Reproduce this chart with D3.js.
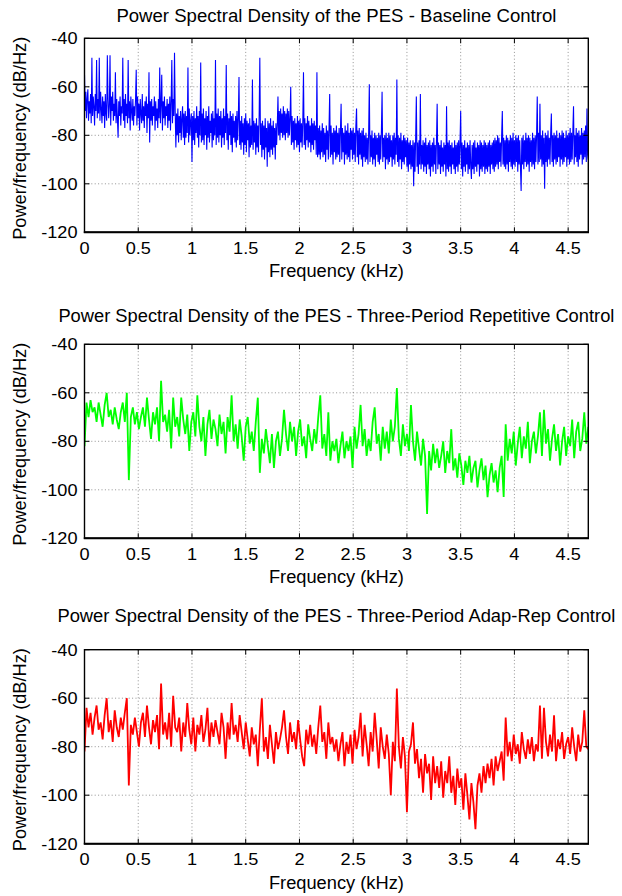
<!DOCTYPE html>
<html><head><meta charset="utf-8">
<script src="https://cdn.jsdelivr.net/npm/d3@7"></script>
<style>
body{margin:0;background:#fff}
svg{display:block}
text{font-family:"Liberation Sans",Arial,Helvetica,sans-serif;fill:#000}
</style>
</head><body>
<svg id="chart" width="622" height="896"></svg>
<script>
// ---------------- data ----------------
const titles = [
  "Power Spectral Density of the PES - Baseline Control",
  "Power Spectral Density of the PES - Three-Period Repetitive Control",
  "Power Spectral Density of the PES - Three-Period Adap-Rep Control"
];
const xLabel = "Frequency (kHz)";
const yLabel = "Power/frequency (dB/Hz)";
const xTicks = [0, 0.5, 1, 1.5, 2, 2.5, 3, 3.5, 4, 4.5];
const xTickLabels = ["0", "0.5", "1", "1.5", "2", "2.5", "3", "3.5", "4", "4.5"];
const yTicks = [-120, -100, -80, -60, -40];
const yTickLabels = ["-120", "-100", "-80", "-60", "-40"];
const freqMax = 4.6875;          // kHz
const yMin = -120, yMax = -40;   // dB/Hz

// Baseline control (bin spacing 0.00625 kHz)
const baselineStep = 0.00625;
const baselinePSD = [
  -55,-70,-62,-73,-65,-61,-74,-66,-71,-63,-75,-48,-72,-64,-68,-76,-63,-70,-49,-73,-65,-71,-48,-74,-62,
  -69,-75,-64,-72,-66,-77,-63,-71,-74,-47,-65,-73,-68,-47,-76,-64,-70,-62,-74,-67,-72,-54,-75,-65,-73,
  -81,-66,-72,-64,-76,-68,-71,-48,-74,-65,-77,-63,-72,-67,-75,-49,-73,-66,-78,-64,-70,-74,-65,-76,-68,
  -72,-65,-53,-76,-64,-73,-67,-78,-65,-71,-75,-63,-74,-68,-77,-66,-72,-64,-79,-67,-73,-54,-83,-66,-74,
  -65,-76,-68,-72,-64,-78,-66,-74,-69,-77,-65,-73,-52,-75,-67,-55,-78,-66,-73,-64,-76,-68,-72,-65,-77,
  -67,-74,-64,-78,-66,-49,-75,-65,-72,-46,-70,-85,-71,-80,-69,-83,-72,-79,-70,-82,-73,-68,-81,-71,-84,
  -70,-81,-72,-79,-52,-83,-69,-80,-74,-71,-91,-72,-82,-70,-84,-73,-79,-68,-81,-72,-85,-70,-80,-50,-83,
  -71,-82,-69,-84,-73,-80,-70,-86,-72,-81,-68,-83,-74,-79,-71,-85,-70,-82,-73,-80,-49,-84,-71,-81,-69,
  -83,-72,-80,-70,-85,-73,-81,-69,-84,-72,-79,-51,-82,-71,-86,-73,-80,-70,-84,-72,-87,-71,-81,-74,-83,
  -72,-85,-70,-82,-73,-56,-84,-74,-86,-72,-83,-75,-88,-73,-84,-71,-87,-74,-82,-75,-89,-73,-85,-76,-84,
  -57,-86,-74,-83,-75,-88,-73,-85,-76,-87,-72,-48,-84,-75,-89,-74,-86,-76,-90,-73,-85,-77,-93,-74,-87,
  -75,-89,-73,-86,-76,-88,-74,-85,-77,-90,-75,-84,-76,-64,-80,-70,-82,-69,-79,-71,-81,-68,-80,-70,-82,
  -71,-79,-69,-81,-70,-80,-73,-60,-84,-72,-83,-74,-86,-73,-82,-75,-85,-72,-84,-74,-87,-73,-83,-75,-85,
  -74,-54,-84,-73,-86,-75,-82,-72,-85,-74,-83,-76,-87,-73,-84,-75,-86,-74,-82,-76,-88,-54,-89,-77,-88,
  -76,-90,-78,-87,-75,-89,-77,-88,-79,-91,-76,-86,-78,-90,-77,-63,-89,-76,-88,-79,-92,-77,-87,-78,-90,
  -76,-89,-79,-88,-77,-91,-78,-67,-90,-77,-87,-79,-92,-76,-88,-78,-90,-75,-89,-79,-91,-77,-86,-78,-90,
  -77,-88,-79,-91,-76,-69,-89,-78,-92,-77,-88,-79,-90,-78,-93,-77,-89,-80,-91,-79,-90,-81,-92,-79,-59,
  -91,-80,-89,-78,-92,-81,-90,-79,-93,-80,-88,-81,-91,-79,-92,-80,-90,-78,-62,-91,-81,-89,-80,-94,-79,
  -90,-81,-92,-79,-91,-80,-89,-82,-93,-80,-90,-79,-92,-81,-88,-57,-91,-80,-93,-81,-90,-79,-94,-82,-91,
  -80,-92,-81,-89,-82,-93,-81,-95,-83,-92,-82,-94,-84,-93,-82,-101,-83,-95,-81,-64,-93,-83,-96,-82,-92,
  -63,-94,-84,-92,-82,-95,-83,-93,-81,-96,-84,-92,-83,-94,-82,-97,-84,-93,-83,-95,-81,-92,-84,-96,-82,
  -67,-94,-83,-92,-84,-96,-82,-93,-85,-95,-83,-92,-84,-97,-68,-94,-83,-95,-82,-93,-84,-96,-83,-92,-85,
  -94,-82,-96,-84,-93,-83,-95,-82,-92,-84,-70,-94,-83,-97,-84,-93,-82,-95,-85,-92,-83,-96,-84,-94,-82,
  -93,-98,-84,-94,-83,-96,-82,-93,-85,-95,-83,-92,-84,-97,-82,-94,-83,-95,-84,-93,-82,-96,-83,-94,-84,
  -95,-83,-93,-82,-96,-84,-92,-83,-94,-82,-95,-81,-93,-82,-92,-80,-94,-81,-91,-83,-93,-80,-70,-92,-81,
  -93,-82,-94,-80,-92,-81,-95,-82,-91,-80,-93,-81,-94,-79,-92,-82,-93,-80,-91,-81,-95,-80,-92,-82,-93,
  -103,-81,-92,-80,-94,-82,-91,-79,-93,-81,-92,-80,-95,-81,-91,-82,-93,-79,-92,-81,-94,-80,-91,-80,-64,
  -92,-79,-91,-67,-90,-80,-93,-78,-92,-81,-102,-79,-91,-80,-93,-78,-90,-81,-92,-79,-71,-91,-80,-93,-79,
  -90,-80,-92,-78,-91,-81,-89,-79,-93,-80,-90,-78,-92,-79,-91,-81,-89,-78,-93,-80,-90,-79,-92,-77,-91,
  -79,-90,-78,-68,-92,-80,-89,-77,-91,-79,-93,-78,-90,-80,-88,-77,-92,-79,-90,-78,-89,-76,-91,-69,-88,
  -90
];

// Three-period repetitive control (bin spacing 0.01875 kHz)
const repetitiveStep = 0.01875;
const repetitivePSD = [
  -82,-64,-70,-63,-68,-66,-72,-64,-69,-74,-65,-60,-70,-67,-73,-66,-71,-75,-68,-64,-72,-60,-96,-70,-66,
  -73,-68,-75,-70,-66,-74,-62,-71,-79,-68,-73,-66,-80,-55,-72,-69,-76,-67,-83,-62,-74,-70,-78,-62,-71,
  -77,-69,-84,-72,-68,-78,-61,-74,-80,-70,-86,-73,-67,-79,-71,-75,-82,-69,-77,-72,-85,-70,-76,-61,-80,
  -73,-83,-71,-78,-88,-74,-70,-81,-76,-84,-72,-62,-93,-79,-85,-75,-82,-89,-77,-91,-80,-76,-86,-79,-67,
  -77,-84,-72,-80,-74,-86,-76,-71,-82,-78,-87,-73,-79,-84,-75,-81,-70,-61,-83,-77,-86,-68,-88,-80,-84,
  -79,-89,-82,-76,-87,-80,-84,-78,-91,-74,-83,-77,-65,-82,-75,-86,-79,-84,-72,-66,-81,-77,-88,-74,-83,
  -76,-85,-71,-80,-74,-58,-79,-86,-73,-82,-77,-84,-65,-80,-88,-76,-83,-90,-79,-86,-110,-84,-92,-81,-89,
  -83,-91,-86,-80,-93,-84,-89,-75,-92,-87,-95,-85,-90,-98,-88,-93,-86,-97,-91,-88,-99,-92,-87,-96,-90,
  -103,-94,-89,-97,-92,-101,-91,-86,-103,-73,-88,-79,-85,-76,-90,-81,-74,-87,-78,-83,-72,-89,-80,-76,-85,
  -78,-68,-86,-67,-81,-75,-88,-79,-73,-84,-77,-90,-80,-74,-86,-78,-82,-71,-87,-76,-72,-84,-79,-68,-81,
  -74
];

// Three-period adaptive-repetitive control (bin spacing 0.01875 kHz)
const adapRepStep = 0.01875;
const adapRepPSD = [
  -82,-64,-72,-66,-75,-68,-63,-73,-70,-77,-67,-60,-74,-69,-78,-65,-72,-76,-68,-73,-66,-60,-96,-71,-75,
  -68,-74,-80,-70,-66,-76,-63,-72,-79,-69,-74,-67,-81,-54,-75,-70,-77,-66,-80,-59,-72,-74,-68,-82,-70,
  -76,-62,-73,-79,-68,-82,-71,-75,-67,-78,-73,-64,-80,-70,-76,-69,-74,-79,-66,-72,-85,-70,-77,-62,-75,
  -71,-78,-67,-74,-81,-70,-77,-84,-72,-79,-75,-88,-73,-60,-82,-76,-85,-71,-79,-87,-74,-81,-77,-72,-65,
  -76,-83,-70,-78,-74,-81,-69,-77,-84,-88,-73,-79,-71,-80,-75,-83,-72,-63,-78,-74,-85,-70,-79,-76,-82,
  -77,-86,-79,-74,-88,-78,-83,-75,-87,-73,-81,-76,-66,-84,-71,-79,-88,-74,-82,-66,-77,-89,-72,-80,-85,
  -75,-83,-100,-78,-86,-56,-80,-89,-76,-84,-107,-82,-79,-70,-87,-81,-93,-85,-99,-83,-91,-87,-102,-84,-95,
  -88,-97,-86,-101,-90,-95,-84,-99,-92,-104,-89,-97,-93,-106,-91,-100,-110,-95,-103,-114,-96,-91,-99,-88,-95,
  -87,-93,-85,-96,-84,-90,-86,-82,-94,-68,-84,-78,-86,-75,-83,-79,-87,-74,-81,-85,-77,-83,-76,-86,-79,
  -82,-63,-85,-64,-78,-84,-75,-82,-67,-86,-77,-81,-74,-85,-79,-76,-83,-72,-80,-86,-75,-82,-78,-65,-80,
  -81
];

const seriesValues = [baselinePSD, repetitivePSD, adapRepPSD];
const seriesSteps  = [baselineStep, repetitiveStep, adapRepStep];
const seriesColors = ["#0000ff", "#00ff00", "#ff0000"];

// ---------------- layout ----------------
const plotLeft = 84.5, plotRight = 588.3, plotH = 194;
const plotTops = [38.3, 344.3, 649.7];
const titleBaselines = [22, 322, 621.5];
const lineWidths = [1.1, 1.8, 1.8];

const svg = d3.select("#chart");
svg.append("rect").attr("width", 622).attr("height", 896).attr("fill", "#fff");

const x = d3.scaleLinear().domain([0, freqMax]).range([plotLeft, plotRight]);

plotTops.forEach((top, k) => {
  const bottom = top + plotH;
  const y = d3.scaleLinear().domain([yMin, yMax]).range([bottom, top]);
  const g = svg.append("g");

  const clipId = "clip" + k;
  svg.append("clipPath").attr("id", clipId)
    .append("rect").attr("x", plotLeft).attr("y", top)
    .attr("width", plotRight - plotLeft).attr("height", plotH);

  // grid (dotted)
  const grid = g.append("g").attr("stroke", "#777").attr("stroke-width", 0.8)
    .attr("stroke-dasharray", "1,2.4");
  xTicks.filter(t => t > 0).forEach(t => {
    grid.append("line").attr("x1", x(t)).attr("x2", x(t)).attr("y1", top).attr("y2", bottom);
  });
  yTicks.filter(t => t > yMin && t < yMax).forEach(t => {
    grid.append("line").attr("x1", plotLeft).attr("x2", plotRight).attr("y1", y(t)).attr("y2", y(t));
  });

  // data
  const vals = seriesValues[k], step = seriesSteps[k];
  const line = d3.line().x((d, i) => x(i * step)).y(d => y(d));
  g.append("path").datum(vals)
    .attr("clip-path", `url(#${clipId})`)
    .attr("fill", "none").attr("stroke", seriesColors[k])
    .attr("stroke-width", lineWidths[k]).attr("stroke-linejoin", "bevel")
    .attr("d", line);

  // box
  g.append("rect").attr("x", plotLeft).attr("y", top)
    .attr("width", plotRight - plotLeft).attr("height", plotH)
    .attr("fill", "none").attr("stroke", "#000").attr("stroke-width", 1.4);
  g.append("line").attr("x1", plotLeft - 0.7).attr("x2", plotRight + 0.7)
    .attr("y1", bottom).attr("y2", bottom).attr("stroke", "#000").attr("stroke-width", 2);

  // ticks (inward, all four sides)
  const tk = g.append("g").attr("stroke", "#000").attr("stroke-width", 1);
  xTicks.forEach(t => {
    tk.append("line").attr("x1", x(t)).attr("x2", x(t)).attr("y1", bottom).attr("y2", bottom - 5);
    tk.append("line").attr("x1", x(t)).attr("x2", x(t)).attr("y1", top).attr("y2", top + 5);
  });
  yTicks.forEach(t => {
    tk.append("line").attr("x1", plotLeft).attr("x2", plotLeft + 5).attr("y1", y(t)).attr("y2", y(t));
    tk.append("line").attr("x1", plotRight).attr("x2", plotRight - 5).attr("y1", y(t)).attr("y2", y(t));
  });

  // tick labels
  xTicks.forEach((t, i) => {
    g.append("text").attr("transform", `translate(${x(t)},${bottom + 21.5}) scale(1.1,1)`)
      .attr("text-anchor", "middle").attr("font-size", 16.5).text(xTickLabels[i]);
  });
  yTicks.forEach((t, i) => {
    g.append("text").attr("transform", `translate(${plotLeft - 7},${y(t) + 6}) scale(1.1,1)`)
      .attr("text-anchor", "end").attr("font-size", 16.5).text(yTickLabels[i]);
  });

  // axis labels
  const cx = (plotLeft + plotRight) / 2;
  g.append("text").attr("x", cx).attr("y", bottom + 45)
    .attr("text-anchor", "middle").attr("font-size", 17.5)
    .attr("textLength", 135).attr("lengthAdjust", "spacingAndGlyphs").text(xLabel);
  g.append("text").attr("transform", `translate(25.5,${top + plotH / 2 + 3}) rotate(-90)`)
    .attr("text-anchor", "middle").attr("font-size", 17.5)
    .attr("textLength", 203).attr("lengthAdjust", "spacingAndGlyphs").text(yLabel);

  // title
  const tLen = [440, 556, 558][k];
  g.append("text").attr("x", cx).attr("y", titleBaselines[k])
    .attr("text-anchor", "middle").attr("font-size", 17.5)
    .attr("textLength", tLen).attr("lengthAdjust", "spacingAndGlyphs").text(titles[k]);
});
</script>
</body></html>
